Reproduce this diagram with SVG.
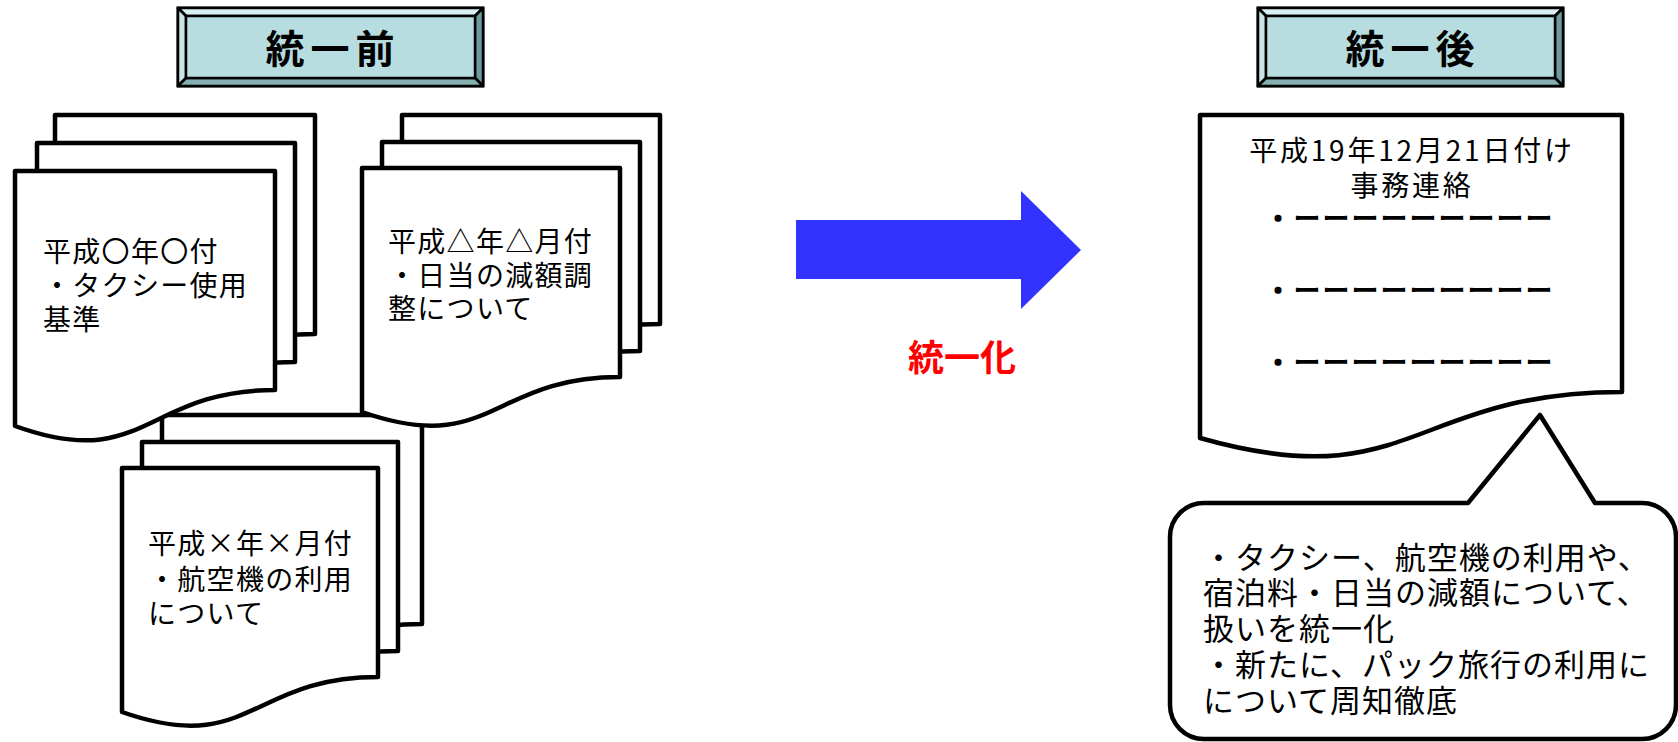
<svg xmlns="http://www.w3.org/2000/svg" width="1678" height="742" viewBox="0 0 1678 742">
<style>
.pg{fill:#fff;stroke:#000;stroke-width:4.5;stroke-linejoin:round}
.t{font-family:"Noto Sans CJK JP","Noto Sans CJK SC",sans-serif;font-size:28px;letter-spacing:1.3px;fill:#000}
.tt{font-family:"Noto Sans CJK JP","Noto Sans CJK SC",sans-serif;font-size:28px;letter-spacing:2.8px;fill:#000;text-anchor:middle}
.bt{font-family:"Noto Sans CJK JP","Noto Sans CJK SC",sans-serif;font-size:31px;letter-spacing:1px;fill:#000}
.bl{font-family:"Noto Sans CJK JP","Noto Sans CJK SC",sans-serif;font-size:26px;letter-spacing:3px;fill:#000;stroke:#000;stroke-width:1.5px}
.hd{font-family:"Noto Sans CJK JP","Noto Sans CJK SC",sans-serif;font-size:39px;font-weight:700;letter-spacing:6px;fill:#000;text-anchor:middle}
.bv{stroke:#000;stroke-width:2.5;stroke-linejoin:round}
</style>
<defs>
<g id="bevel">
<rect x="0" y="0" width="305" height="78" fill="#b8dde0" stroke="#000" stroke-width="3"/>
<polygon class="bv" points="0,0 305,0 297,8 8,8" fill="#d8eef0"/>
<polygon class="bv" points="0,0 8,8 8,70 0,78" fill="#c8e4e7"/>
<polygon class="bv" points="305,0 305,78 297,70 297,8" fill="#6d9a9d"/>
<polygon class="bv" points="0,78 8,70 297,70 305,78" fill="#86afb2"/>
<rect x="8" y="8" width="289" height="62" fill="#b8dde0" stroke="#000" stroke-width="2.5"/>
</g>
</defs>

<g id="header-before">
<use href="#bevel" x="178" y="8"/>
<text class="hd" x="333" y="63">統一前</text>
</g>
<g id="header-after">
<use href="#bevel" x="1258" y="8"/>
<text class="hd" x="1413" y="63">統一後</text>
</g>

<g id="stack3">
<path class="pg" d="M162,415 H422 V624 C292,624 292,704 162,659 Z"/>
<path class="pg" d="M142,442 H398 V651 C270,651 270,731 142,686 Z"/>
<path class="pg" d="M122,468 H378 V677 C250,677 250,757 122,712 Z"/>
<text class="t" x="148" y="554">平成×年×月付</text>
<text class="t" x="148" y="590">・航空機の利用</text>
<text class="t" x="148" y="624">について</text>
</g>

<g id="stack1">
<path class="pg" d="M55,115 H315 V334 C185,334 185,417 55,370 Z"/>
<path class="pg" d="M37,143 H295 V362 C166,362 166,445 37,398 Z"/>
<path class="pg" d="M15,171 H275 V390 C145,390 145,473 15,426 Z"/>
<text class="t" x="43" y="262">平成〇年〇付</text>
<text class="t" x="43" y="296">・タクシー使用</text>
<text class="t" x="43" y="330">基準</text>
</g>

<g id="stack2">
<path class="pg" d="M402,115 H660 V324 C531,324 531,404 402,359 Z"/>
<path class="pg" d="M382,142 H640 V351 C511,351 511,431 382,386 Z"/>
<path class="pg" d="M362,168 H620 V377 C491,377 491,457 362,412 Z"/>
<text class="t" x="388" y="252">平成△年△月付</text>
<text class="t" x="388" y="286">・日当の減額調</text>
<text class="t" x="388" y="319">整について</text>
</g>

<g id="connectors">
<polygon points="796,220 1021,220 1021,191 1081,250 1021,309 1021,279 796,279" fill="#3333ff"/>
<text x="962" y="371" font-family="'Noto Sans CJK JP','Noto Sans CJK SC',sans-serif" font-size="36" font-weight="700" fill="#ff0000" text-anchor="middle">統一化</text>
</g>

<g id="doc-after">
<path class="pg" d="M1200,115 H1622 V392 C1411,392 1411,498 1200,438 Z"/>
<text class="tt" x="1412" y="161">平成19年12月21日付け</text>
<text class="tt" x="1412" y="196">事務連絡</text>
<text class="bl" x="1265" y="228">・ーーーーーーーーー</text>
<text class="bl" x="1265" y="300">・ーーーーーーーーー</text>
<text class="bl" x="1265" y="372">・ーーーーーーーーー</text>
</g>

<g id="callout">
<path class="pg" d="M1204,503 H1468 L1540,415 L1595,503 H1642 A34,34 0 0 1 1676,537 V705 A34,34 0 0 1 1642,739 H1204 A34,34 0 0 1 1170,705 V537 A34,34 0 0 1 1204,503 Z"/>
<text class="bt" x="1203" y="569">・タクシー、航空機の利用や、</text>
<text class="bt" x="1203" y="604">宿泊料・日当の減額について、</text>
<text class="bt" x="1203" y="640">扱いを統一化</text>
<text class="bt" x="1203" y="676">・新たに、パック旅行の利用に</text>
<text class="bt" x="1203" y="712">について周知徹底</text>
</g>
</svg>
